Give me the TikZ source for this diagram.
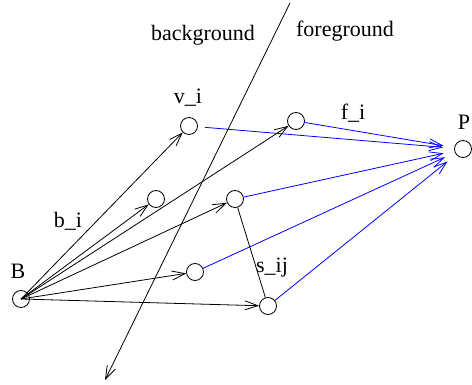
\documentclass[tikz,border=0pt]{standalone}
\usepackage{fontspec}
\setmainfont{Liberation Serif}
\usepackage{xcolor}
\usetikzlibrary{arrows.meta}
\definecolor{fgblue}{HTML}{0000FF}

\begin{document}
\begin{tikzpicture}[x=1pt,y=-1pt,
  pt/.style={circle,draw,minimum size=17pt,inner sep=0pt,line width=0.8pt},
  lab/.style={font=\fontsize{22}{26}\selectfont,inner sep=0pt},
  arr/.style={-{Straight Barb[length=13pt,width=9pt]},line width=0.8pt},
  toP/.style={arr,fgblue,shorten >=11pt}]
  \useasboundingbox (0,0) rectangle (472,385);
  % dividing line
  \coordinate (top) at (290,3);
  \coordinate (bot) at (105,380);
  \draw[arr] (top) -- (bot);
  \node[lab] (bg) at (203,35) {background};
  \node[lab] (fg) at (345,31) {foreground};
  % points
  \node[pt] (B) at (21,299) {};
  \node[pt] (v) at (189,126) {};
  \node[pt] (n2) at (296,121) {};
  \node[pt] (n3) at (156,199) {};
  \node[pt] (n4) at (235,199) {};
  \node[pt] (n5) at (195,272) {};
  \node[pt] (n6) at (268,306) {};
  \node[pt] (P) at (463,149) {};
  % labels
  \node[lab] (labB) at (18,271) {B};
  \node[lab] (labP) at (464,122) {P};
  \node[lab] (labv) at (188,98) {v\_i};
  \node[lab] (labb) at (68,221) {b\_i};
  \node[lab] (labf) at (353,113) {f\_i};
  \node[lab] (labs) at (272,268) {s\_ij};
  % rays from B
  \foreach \n in {v,n2,n3,n4,n5,n6}
    \draw[arr] (B.center) -- (\n);
  % rays to P
  \draw[toP,shorten <=7pt] (v) -- (P);
  \foreach \n in {n2,n4,n5,n6}
    \draw[toP] (\n) -- (P);
  \draw[line width=0.8pt] (n4) -- (n6);
\end{tikzpicture}
\end{document}
